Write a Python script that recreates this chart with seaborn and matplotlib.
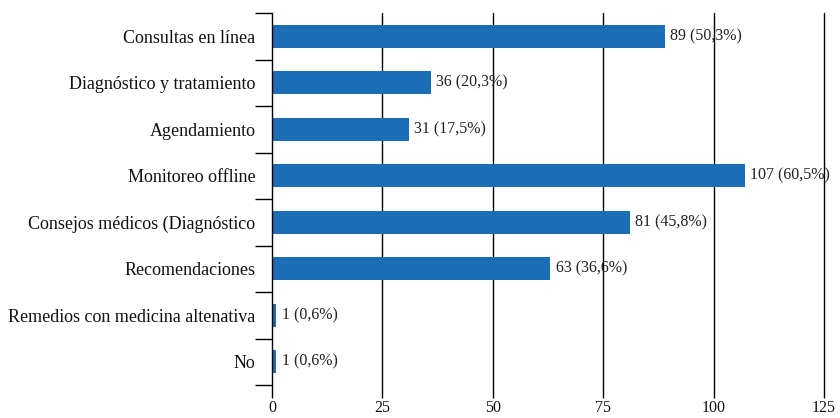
import matplotlib
matplotlib.use("Agg")
import matplotlib.pyplot as plt
import seaborn as sns
import pandas as pd
import numpy as np

categories = [
    "Consultas en línea",
    "Diagnóstico y tratamiento",
    "Agendamiento",
    "Monitoreo offline",
    "Consejos médicos (Diagnóstico",
    "Recomendaciones",
    "Remedios con medicina altenativa",
    "No",
]
counts = [89, 36, 31, 107, 81, 63, 1, 1]
percents = ["50,3%", "20,3%", "17,5%", "60,5%", "45,8%", "36,6%", "0,6%", "0,6%"]
x_ticks = [0, 25, 50, 75, 100, 125]

sns.set_theme(style="white")
plt.rcParams["font.family"] = ["Liberation Serif", "DejaVu Serif"]

df = pd.DataFrame({"categoria": categories, "n": counts})

fig = plt.figure(figsize=(8.4, 4.18), dpi=100)
ax = fig.add_axes([272 / 840, 33 / 418, (824 - 272) / 840, (385 - 13) / 418])

sns.barplot(data=df, y="categoria", x="n", orient="h", color="#1b6db5",
            saturation=1, width=0.5, linewidth=0, ax=ax)

ax.set_xlim(0, 125)
ax.set_ylim(len(categories) - 0.5, -0.5)
ax.set_xlabel("")
ax.set_ylabel("")

# vertical gridlines, the last one sits on the right edge
for t in x_ticks[1:]:
    ax.axvline(t, color="black", lw=1.0, zorder=0, clip_on=False)

for sp in ["top", "right", "bottom"]:
    ax.spines[sp].set_visible(False)
ax.spines["left"].set_color("black")
ax.spines["left"].set_linewidth(1.0)

ax.set_xticks(x_ticks)
ax.set_xticklabels([str(t) for t in x_ticks])
ax.tick_params(axis="x", bottom=True, direction="out", length=9, width=1.0,
               color="black", labelsize=11.5, pad=1.5)

ax.set_yticks(range(len(categories)))
ax.set_yticklabels(categories)
ax.set_yticks(np.arange(-0.5, len(categories)), minor=True)
ax.tick_params(axis="y", which="major", length=0, labelsize=13, pad=12)
ax.tick_params(axis="y", which="minor", left=True, length=12, width=1.0,
               color="black")

for i, (n, p) in enumerate(zip(counts, percents)):
    ax.text(n + 1.2, i, f"{n} ({p})", va="center", ha="left",
            fontsize=11.5, color="#222222")

for lab in ax.get_xticklabels() + ax.get_yticklabels():
    lab.set_color("#111111")

fig.savefig("out.png", dpi=100)
